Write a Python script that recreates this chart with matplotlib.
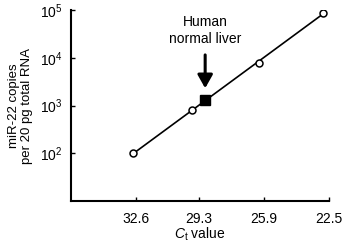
import numpy as np
import matplotlib
matplotlib.use("Agg")
import matplotlib.pyplot as plt

plt.rcParams["font.family"] = ["Liberation Sans", "DejaVu Sans"]
plt.rcParams["mathtext.fontset"] = "custom"
plt.rcParams["mathtext.rm"] = "Liberation Sans"
plt.rcParams["mathtext.it"] = "Liberation Sans:italic"

# standard curve points (Ct, copies)
ct_std = [32.75, 29.65, 26.15, 22.8]
copies_std = [100, 820, 7800, 89000]

# human normal liver sample
ct_liver = 28.98
copies_liver = 1320

xtick_vals = [32.6, 29.3, 25.9, 22.5]
xtick_labels = ["32.6", "29.3", "25.9", "22.5"]

fig = plt.figure(figsize=(3.42, 2.46), dpi=100)
ax = fig.add_axes([0.2076, 0.183, 0.7544, 0.776])

# fitted line through the standards
coef = np.polyfit(ct_std, np.log10(copies_std), 1)
xl = np.array([max(ct_std), min(ct_std)])
ax.plot(xl, 10 ** np.polyval(coef, xl), color="black", lw=1.2, zorder=2)

ax.plot(ct_std, copies_std, "o", ms=5, mfc="white", mec="black", mew=1.1, zorder=3)
ax.plot([ct_liver], [copies_liver], "s", ms=7, color="black", zorder=4)

ax.annotate("", xy=(ct_liver, 2300), xytext=(ct_liver, 11500),
            arrowprops=dict(arrowstyle="-|>,head_width=0.45,head_length=0.8",
                            lw=2.2, color="black", mutation_scale=10,
                            shrinkA=0, shrinkB=0))
ax.text(ct_liver, 38000, "Human\nnormal liver", ha="center", va="center",
        multialignment="center", fontsize=10, linespacing=1.25)

ax.set_yscale("log")
ax.set_ylim(10, 1e5)
ax.set_yticks([1e2, 1e3, 1e4, 1e5])
ax.minorticks_off()
ax.set_xlim(36.0, 22.5)
ax.set_xticks(xtick_vals)
ax.set_xticklabels(xtick_labels)

for s in ["top", "right"]:
    ax.spines[s].set_visible(False)
for s in ["left", "bottom"]:
    ax.spines[s].set_linewidth(1.5)
ax.tick_params(direction="in", length=3, width=1, labelsize=10)
ax.tick_params(axis="x", pad=8)
ax.tick_params(axis="y", pad=6)

ax.set_xlabel("$C_\\mathrm{t}$ value", fontsize=10, labelpad=0)
ax.set_ylabel("miR-22 copies\nper 20 pg total RNA", fontsize=9.5,
              labelpad=5, linespacing=1.15)

fig.savefig("out.png", dpi=100)
